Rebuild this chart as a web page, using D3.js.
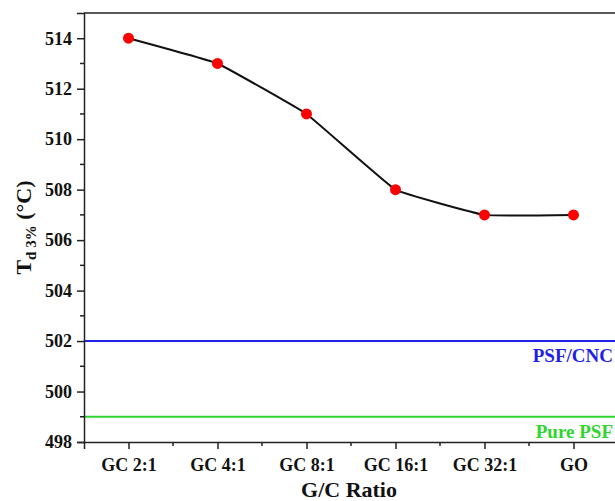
<!DOCTYPE html>
<html>
<head>
<meta charset="utf-8">
<script src="https://cdn.jsdelivr.net/npm/d3@7/dist/d3.min.js"></script>
<style>
  body { margin: 0; background: #fff; }
  svg { display: block; font-family: "Liberation Serif", "Times New Roman", serif; font-weight: bold; }
</style>
</head>
<body>
<svg id="chart" width="615" height="501"></svg>
<script>
// G/C ratio samples and their 3% decomposition temperatures
const categories = ["GC 2:1", "GC 4:1", "GC 8:1", "GC 16:1", "GC 32:1", "GO"];
const td3 = [514, 513, 511, 508, 507, 507];
// Reference levels
const refLines = [
  { name: "PSF/CNC", value: 502, color: "#1f1fe6" },
  { name: "Pure PSF", value: 499, color: "#2ed62e" }
];
const yTicks = [498, 500, 502, 504, 506, 508, 510, 512, 514];

const svg = d3.select("#chart");
const margin = { left: 84, top: 13, right: -3, bottom: 59 };
const W = 615, H = 501;
const x0 = margin.left, x1 = W - margin.right;
const y0 = H - margin.bottom, y1 = margin.top;

const x = d3.scalePoint().domain(categories).range([x0, x1]).padding(0.5);
const y = d3.scaleLinear().domain([498, 515]).range([y0, y1]);

const serif = "Liberation Serif, Times New Roman, serif";

// frame (top border)
svg.append("line").attr("x1", x0).attr("x2", x1).attr("y1", y1).attr("y2", y1)
  .attr("stroke", "#222").attr("stroke-width", 1.5);

// reference lines
refLines.forEach(r => {
  svg.append("line").attr("x1", x0).attr("x2", W).attr("y1", y(r.value)).attr("y2", y(r.value))
    .attr("stroke", r.color).attr("stroke-width", 2);
  svg.append("text").attr("x", 613).attr("y", y(r.value) + 21)
    .attr("text-anchor", "end").attr("fill", r.color).attr("font-size", 19)
    .text(r.name);
});

// y axis
const yAxis = d3.axisLeft(y).tickValues(yTicks).tickSize(7).tickPadding(5).tickFormat(d3.format("d"));
const gy = svg.append("g").attr("transform", `translate(${x0},0)`).call(yAxis);
gy.select(".domain").attr("stroke", "#222").attr("stroke-width", 1.5);
gy.selectAll(".tick line").attr("stroke", "#222").attr("stroke-width", 1.5);
gy.selectAll(".tick text").attr("font-size", 18).attr("font-family", serif).attr("font-weight", "bold").attr("fill", "#111");
// minor y ticks
const yMinor = d3.range(499, 515, 2);
gy.selectAll(".minor").data(yMinor).enter().append("line")
  .attr("x1", -4).attr("x2", 0).attr("y1", d => y(d)).attr("y2", d => y(d))
  .attr("stroke", "#222").attr("stroke-width", 1.5);

// x axis
const xAxis = d3.axisBottom(x).tickSize(7).tickPadding(9);
const gx = svg.append("g").attr("transform", `translate(0,${y0})`).call(xAxis);
gx.select(".domain").attr("stroke", "#222").attr("stroke-width", 1.5);
gx.selectAll(".tick line").attr("stroke", "#222").attr("stroke-width", 1.5);
gx.selectAll(".tick text").attr("font-size", 18).attr("font-family", serif).attr("font-weight", "bold").attr("fill", "#111");
// minor x ticks midway between categories
const step = x.step();
const xMinor = categories.map(c => x(c) + step / 2).filter(v => v < W);
gx.selectAll(".minor").data(xMinor).enter().append("line")
  .attr("x1", d => d).attr("x2", d => d).attr("y1", 0).attr("y2", 4)
  .attr("stroke", "#222").attr("stroke-width", 1.5);

// axis titles
svg.append("text").attr("x", 349).attr("y", 497)
  .attr("text-anchor", "middle").attr("font-size", 22).attr("fill", "#111").text("G/C Ratio");

const yt = svg.append("text").attr("transform", `translate(31,${(y0 + y1) / 2}) rotate(-90)`)
  .attr("text-anchor", "middle").attr("font-size", 22).attr("fill", "#111");
yt.append("tspan").text("T");
yt.append("tspan").attr("font-size", 15).attr("dy", 5).text("d 3%");
yt.append("tspan").attr("dy", -5).text(" (°C)");

// data line and points
const pts = categories.map((c, i) => [x(c), y(td3[i])]);
svg.append("path").datum(pts)
  .attr("d", d3.line().curve(d3.curveCardinal.tension(0.75)))
  .attr("fill", "none").attr("stroke", "#111").attr("stroke-width", 2);
svg.selectAll(".pt").data(pts).enter().append("circle")
  .attr("cx", d => d[0]).attr("cy", d => d[1]).attr("r", 5.5).attr("fill", "#ff0000");
</script>
</body>
</html>
